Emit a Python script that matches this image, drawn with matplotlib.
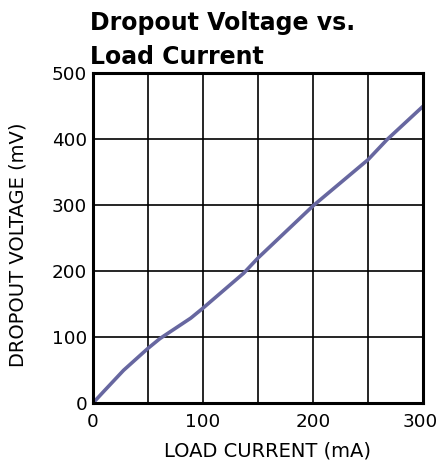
import matplotlib.pyplot as plt
from matplotlib.transforms import ScaledTranslation

plt.rcParams['font.family'] = ['DejaVu Sans']

# dropout voltage curve (mA -> mV)
load_current = [0, 10, 28, 50, 61, 89, 100, 137, 150, 200, 250, 267, 300]
dropout_mv = [0, 18, 50, 83, 98, 129, 144, 197, 220, 299, 369, 399, 450]

x_ticks = [0, 100, 200, 300]
y_ticks = [0, 100, 200, 300, 400, 500]

fig = plt.figure(figsize=(4.39, 4.68), dpi=100)
ax = fig.add_axes([0.2112, 0.1382, 0.7530, 0.7058])

ax.plot(load_current, dropout_mv, color='#6767a0', lw=2.6, solid_capstyle='round', zorder=3)

ax.set_xlim(0, 300)
ax.set_ylim(0, 500)
ax.set_xticks(x_ticks)
ax.set_yticks(y_ticks)
ax.set_xticks(range(0, 301, 50), minor=True)
ax.grid(True, which='both', color='black', lw=1.2)
ax.tick_params(which='both', length=0, labelsize=13.2)
ax.tick_params(axis='x', pad=7)
ax.tick_params(axis='y', pad=4)
for s in ax.spines.values():
    s.set_linewidth(2.2)
    s.set_zorder(4)

# keep the last x label inside the figure
last = ax.get_xticklabels()[-1]
last.set_transform(last.get_transform() + ScaledTranslation(-3 / 100, 0, fig.dpi_scale_trans))

ax.set_xlabel('LOAD CURRENT (mA)', fontsize=14, va='center')
ax.xaxis.set_label_coords(0.529, -0.145)
ax.set_ylabel('DROPOUT VOLTAGE (mV)', fontsize=14, va='center')
ax.yaxis.set_label_coords(-0.226, 0.48)

fig.text(0.205, 0.976, 'Dropout Voltage vs.\nLoad Current', fontsize=17,
         fontweight='bold', ha='left', va='top', linespacing=1.5)

fig.savefig('out.png', dpi=100)
